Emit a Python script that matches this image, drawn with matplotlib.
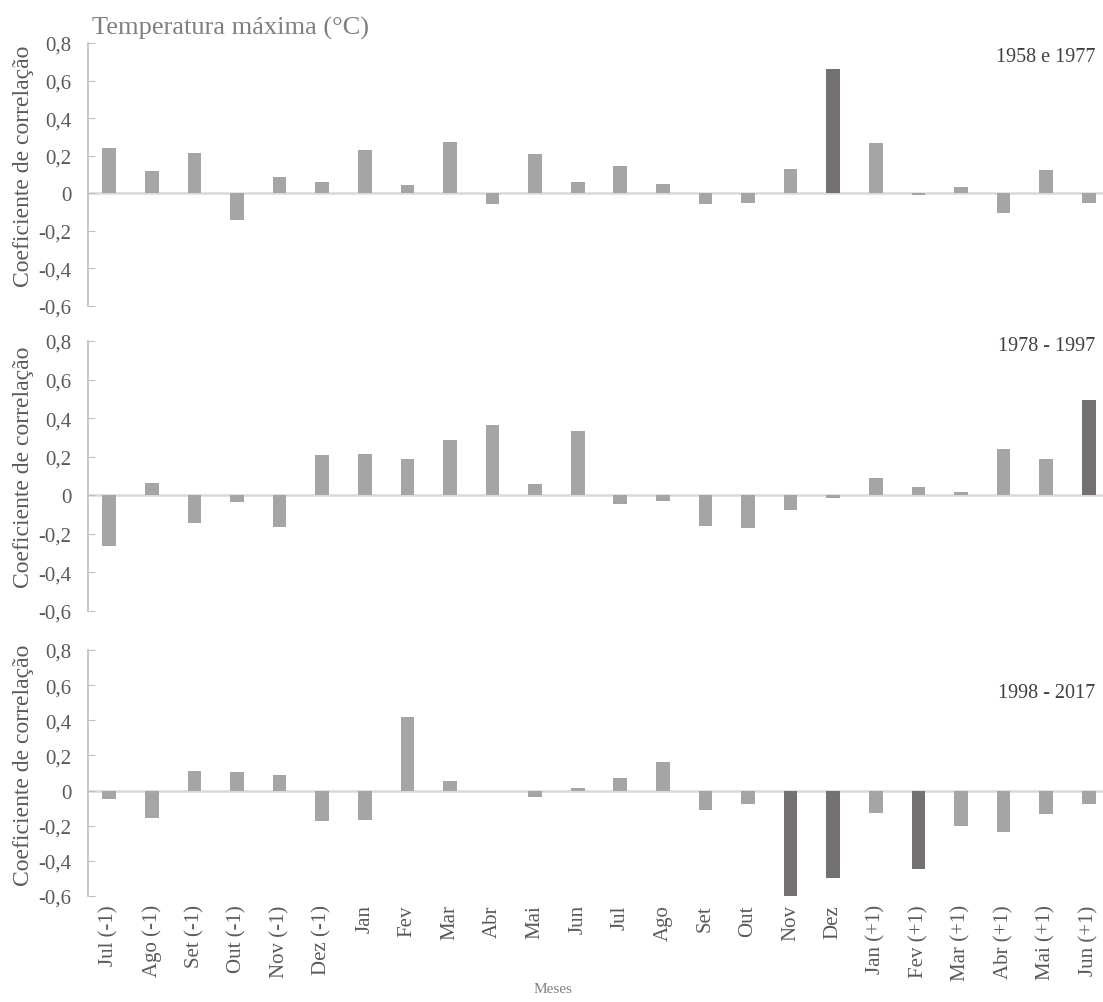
import matplotlib
matplotlib.use("Agg")
import matplotlib.pyplot as plt


MONTHS = ["Jul (-1)", "Ago (-1)", "Set (-1)", "Out (-1)", "Nov (-1)", "Dez (-1)",
          "Jan", "Fev", "Mar", "Abr", "Mai", "Jun", "Jul", "Ago", "Set", "Out",
          "Nov", "Dez", "Jan (+1)", "Fev (+1)", "Mar (+1)", "Abr (+1)", "Mai (+1)", "Jun (+1)"]

PERIOD_1958_1977 = [0.24, 0.117, 0.216, -0.142, 0.087, 0.058, 0.229, 0.044, 0.273, -0.058, 0.211, 0.058,
                    0.144, 0.048, -0.058, -0.052, 0.131, 0.66, 0.266, -0.01, 0.035, -0.103, 0.126, -0.053]
PERIOD_1978_1997 = [-0.263, 0.063, -0.146, -0.037, -0.163, 0.207, 0.212, 0.19, 0.289, 0.365, 0.057, 0.332,
                    -0.047, -0.031, -0.158, -0.169, -0.075, -0.012, 0.09, 0.042, 0.019, 0.238, 0.19, 0.492]
PERIOD_1998_2017 = [-0.048, -0.158, 0.112, 0.107, 0.09, -0.175, -0.169, 0.419, 0.053, 0.0, -0.038, 0.015,
                    0.07, 0.162, -0.11, -0.074, -0.6, -0.5, -0.128, -0.448, -0.2, -0.236, -0.133, -0.074]

# months with significant correlation (dark bars)
SIGNIF_1958_1977 = ["Dez"]
SIGNIF_1978_1997 = ["Jun (+1)"]
SIGNIF_1998_2017 = ["Nov", "Dez", "Fev (+1)"]

PANEL_LABELS = ["1958 e 1977", "1978 - 1997", "1998 - 2017"]
Y_TICKS = [-0.6, -0.4, -0.2, 0, 0.2, 0.4, 0.6, 0.8]

LIGHT = "#a5a5a5"
DARK = "#757171"
TEXT = "#595959"

plt.rcParams["font.family"] = ["Liberation Serif", "DejaVu Serif"]

W, H = 1103, 1003
fig = plt.figure(figsize=(W / 100, H / 100), dpi=100)

# (top px of 0.8, bottom px of -0.6, label y px)
panels = [
    (PERIOD_1958_1977, SIGNIF_1958_1977, 44, 307, 58),
    (PERIOD_1978_1997, SIGNIF_1978_1997, 342, 612, 347),
    (PERIOD_1998_2017, SIGNIF_1998_2017, 651, 897, 694),
]

left_px, right_px = 88, 1110
x = list(range(len(MONTHS)))

for i, (values, signif, top_px, bot_px, lab_px) in enumerate(panels):
    ax = fig.add_axes([left_px / W, 1 - bot_px / H, (right_px - left_px) / W, (bot_px - top_px) / H])
    colors = [DARK if m in signif else LIGHT for m in MONTHS]
    ax.bar(x, values, width=0.32, color=colors, zorder=2)
    ax.axhline(0, color="#d9d9d9", linewidth=1.8, zorder=1)
    ax.set_xlim(-0.5, len(MONTHS) - 0.5)
    ax.set_ylim(-0.6, 0.8)
    ax.set_yticks(Y_TICKS)
    ax.set_yticklabels([f"{t:g}".replace(".", ",") for t in Y_TICKS], fontsize=15, color=TEXT)
    ax.tick_params(axis="y", direction="in", length=5, color="#bfbfbf", pad=12)
    for s in ["top", "right", "bottom"]:
        ax.spines[s].set_visible(False)
    ax.spines["left"].set_color("#bfbfbf")
    ax.spines["left"].set_linewidth(1.2)
    ax.set_ylabel("Coeficiente de correlação", fontsize=17, color=TEXT)
    ax.yaxis.set_label_coords(-0.053, 0.535)
    ax.text((1095 - left_px) / (right_px - left_px), (bot_px - lab_px) / (bot_px - top_px),
            PANEL_LABELS[i], transform=ax.transAxes, ha="right", va="center",
            fontsize=14.5, color="#404040")
    if i < 2:
        ax.set_xticks([])
    else:
        ax.set_xticks(x)
        ax.set_xticklabels(MONTHS, rotation=90, fontsize=15, color=TEXT)
        ax.tick_params(axis="x", length=0, pad=6)

fig.text(92 / W, 1 - 28 / H, "Temperatura máxima (°C)", fontsize=19, color="#7f7f7f", va="center")
fig.text(553 / W, 1 - 990 / H, "Meses", fontsize=11, color="#808080", ha="center", va="center")

fig.savefig("out.png", dpi=100)
